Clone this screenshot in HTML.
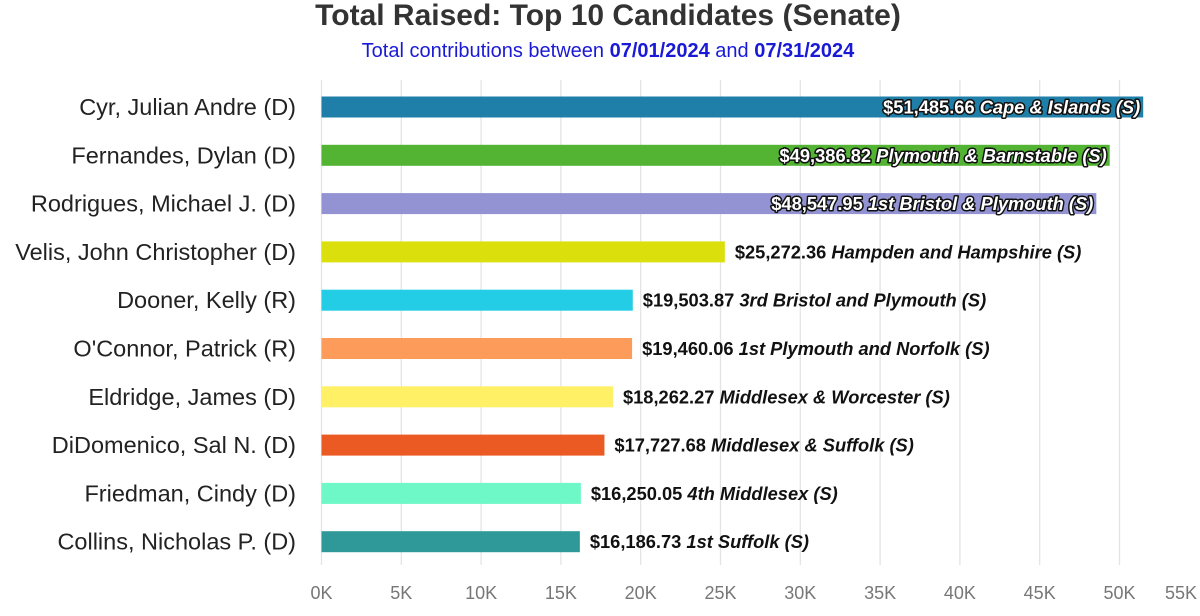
<!DOCTYPE html>
<html><head><meta charset="utf-8"><style>
body{margin:0;background:#fff;width:1200px;height:611px;overflow:hidden;font-family:"Liberation Sans",Arial,sans-serif}
</style></head><body>
<svg id="chart" width="1200" height="611">
<text x="608" y="25" text-anchor="middle" font-size="30" font-weight="bold" fill="#333">Total Raised: Top 10 Candidates  (Senate)</text>
<text x="608" y="57" text-anchor="middle" font-size="20" fill="#1a1ad6">Total contributions between <tspan font-weight="bold">07/01/2024</tspan> and <tspan font-weight="bold">07/31/2024</tspan></text>
<g id="grid"></g><g id="bars"></g><g id="labels"></g><g id="ticks"></g>
</svg>
<script>
const names=["Cyr, Julian Andre (D)","Fernandes, Dylan (D)","Rodrigues, Michael J. (D)","Velis, John Christopher (D)","Dooner, Kelly (R)","O'Connor, Patrick (R)","Eldridge, James (D)","DiDomenico, Sal N. (D)","Friedman, Cindy (D)","Collins, Nicholas P. (D)"];
const values=[51485.66,49386.82,48547.95,25272.36,19503.87,19460.06,18262.27,17727.68,16250.05,16186.73];
const amounts=["$51,485.66","$49,386.82","$48,547.95","$25,272.36","$19,503.87","$19,460.06","$18,262.27","$17,727.68","$16,250.05","$16,186.73"];
const districts=["Cape & Islands (S)","Plymouth & Barnstable (S)","1st Bristol & Plymouth (S)","Hampden and Hampshire (S)","3rd Bristol and Plymouth (S)","1st Plymouth and Norfolk (S)","Middlesex & Worcester (S)","Middlesex & Suffolk (S)","4th Middlesex (S)","1st Suffolk (S)"];
const colors=["#1f7fa8","#52b432","#9393d3","#dbe00c","#24cde6","#fd9b5b","#fff066","#ea5a22","#6ef7c7","#2f9898"];
const ticks=[0,5000,10000,15000,20000,25000,30000,35000,40000,45000,50000,55000];
const tickLabels=["0K","5K","10K","15K","20K","25K","30K","35K","40K","45K","50K","55K"];
const NS="http://www.w3.org/2000/svg";
const x=v=>321.5+v*0.01596;
const y=i=>107+i*48.3;
function mk(t,a,p){const e=document.createElementNS(NS,t);for(const k in a)e.setAttribute(k,a[k]);p.appendChild(e);return e;}
const G=document.getElementById('grid'),B=document.getElementById('bars'),L=document.getElementById('labels'),T=document.getElementById('ticks');
ticks.forEach((t,i)=>{
 if(i<ticks.length-1){const l=mk('line',{x1:x(t),x2:x(t),y1:80,y2:565,stroke:'#e4e4e4','stroke-width':1.3},G);
 
 }
 const tx=Math.min(x(t),1181);
 const e=mk('text',{x:tx,y:599,'text-anchor':'middle','font-size':18,fill:'#777'},T);e.textContent=tickLabels[i];
 
 
});
values.forEach((v,i)=>{
 const r=mk('rect',{x:x(0),y:y(i)-10.5,width:x(v)-x(0),height:21,fill:colors[i]},B);
 
 
 const n=mk('text',{x:296,y:y(i)+8,'text-anchor':'end','font-size':23.5,fill:'#222'},L);n.textContent=names[i];
 
 
 const inside=v>40000;
 const t=mk('text',{x:inside?x(v)-3:x(v)+10,y:y(i)+6.5,'text-anchor':inside?'end':'start','font-size':18.3,'font-weight':'bold',fill:inside?'#fff':'#111'},L);
 if(inside){t.setAttribute('stroke','#111');t.setAttribute('stroke-width','3');t.setAttribute('paint-order','stroke');t.setAttribute('stroke-linejoin','round');}
 t.innerHTML=amounts[i]+' <tspan font-style="italic">'+districts[i].replace(/&/g,'&amp;')+'</tspan>';
 
 
});
</script>
</body></html>
